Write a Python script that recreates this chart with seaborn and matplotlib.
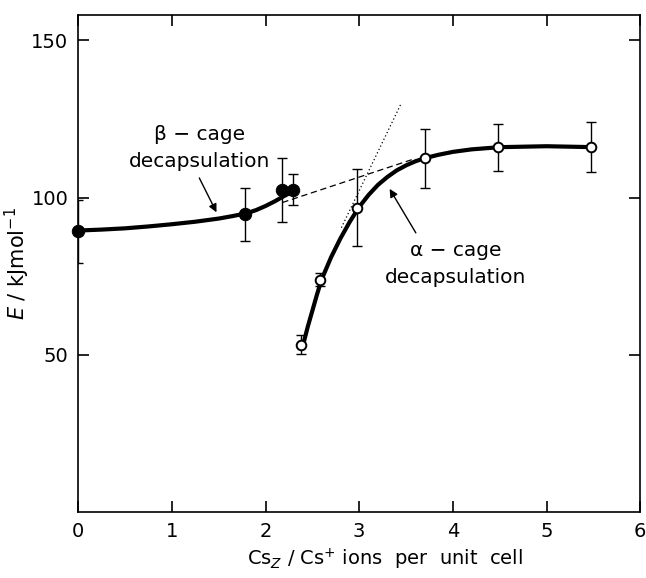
import numpy as np
import pandas as pd
import matplotlib
matplotlib.use("Agg")
import matplotlib.pyplot as plt
import seaborn as sns

# === Data ===
# beta-cage points (filled)
beta_x = [0.0, 1.78, 2.18, 2.29]
beta_y = [89.2, 94.6, 102.5, 102.5]
beta_err = [10.0, 8.3, 10.2, 5.0]

# alpha-cage points (open)
alpha_x = [2.38, 2.58, 2.98, 3.70, 4.48, 5.48]
alpha_y = [53.2, 73.9, 96.8, 112.4, 116.0, 116.0]
alpha_err = [3.0, 2.0, 12.3, 9.3, 7.5, 8.0]

# hand-drawn guide curves
beta_curve_x = [0.0, 0.25, 0.5, 0.75, 1.0, 1.25, 1.5, 1.65, 1.8, 1.9, 2.0, 2.1, 2.2, 2.3]
beta_curve_y = [89.5, 89.8, 90.2, 90.8, 91.5, 92.3, 93.3, 94.1, 95.0, 96.0, 97.3, 98.8, 100.5, 102.0]
alpha_curve_x = [2.40, 2.45, 2.50, 2.55, 2.60, 2.70, 2.80, 2.90, 3.00, 3.10, 3.20, 3.30,
                 3.40, 3.50, 3.60, 3.70, 3.85, 4.00, 4.20, 4.50, 5.00, 5.50]
alpha_curve_y = [53.0, 58.8, 64.0, 69.2, 74.0, 81.0, 87.0, 92.3, 97.0, 100.8, 104.0, 106.5,
                 108.6, 110.2, 111.5, 112.5, 113.6, 114.5, 115.3, 116.0, 116.3, 116.0]

# construction lines
dash_x = [2.18, 3.60]
dash_y = [98.4, 112.4]
dot_x = [2.81, 3.45]
dot_y = [90.4, 130.0]

# === Plot ===
sns.set_style("ticks")
plt.rcParams["font.family"] = ["DejaVu Sans"]
plt.rcParams["mathtext.fontset"] = "dejavusans"
plt.rcParams["text.color"] = "black"
plt.rcParams["axes.labelcolor"] = "black"
plt.rcParams["xtick.color"] = "black"
plt.rcParams["ytick.color"] = "black"

fig = plt.figure(figsize=(6.46, 5.78), dpi=100)
ax = fig.add_axes([0.121, 0.114, 0.870, 0.860])

sns.lineplot(x=beta_curve_x, y=beta_curve_y, ax=ax, color="black", lw=3.0, sort=False)
sns.lineplot(x=alpha_curve_x, y=alpha_curve_y, ax=ax, color="black", lw=3.0, sort=False)
sns.lineplot(x=dash_x, y=dash_y, ax=ax, color="black", lw=0.9, linestyle=(0, (5, 3)))
sns.lineplot(x=dot_x, y=dot_y, ax=ax, color="black", lw=0.9, linestyle=(0, (1, 2)))

ax.errorbar(beta_x, beta_y, yerr=beta_err, fmt="none", ecolor="black",
            elinewidth=1.0, capsize=3.5, capthick=1.0, zorder=3)
ax.errorbar(alpha_x, alpha_y, yerr=alpha_err, fmt="none", ecolor="black",
            elinewidth=1.0, capsize=3.5, capthick=1.0, zorder=3)

sns.scatterplot(x=beta_x, y=beta_y, ax=ax, s=80, color="black",
                edgecolor="black", zorder=5, clip_on=False)
sns.scatterplot(x=alpha_x, y=alpha_y, ax=ax, s=48, facecolor="white",
                edgecolor="black", linewidth=1.4, zorder=5)

ax.set_xlim(0, 6)
ax.set_ylim(0, 158)
ax.set_xticks([0, 1, 2, 3, 4, 5, 6])
ax.set_yticks([50, 100, 150])
ax.tick_params(direction="in", length=8, width=1.2, labelsize=14,
               top=True, right=True, pad=7)
for s in ax.spines.values():
    s.set_linewidth(1.2)
    s.set_color("black")

ax.set_xlabel("Cs$_Z$ / Cs$^{+}$ ions  per  unit  cell", fontsize=14)
ax.xaxis.set_label_coords(0.546, -0.07)
ax.set_ylabel("$E$ / kJmol$^{-1}$", fontsize=15)
ax.yaxis.set_label_coords(-0.082, 0.50)

ax.text(1.3, 120, "β − cage", fontsize=14.5, ha="center", va="center")
ax.text(1.3, 111.5, "decapsulation", fontsize=14.5, ha="center", va="center")
ax.annotate("", xy=(1.49, 94.5), xytext=(1.28, 107),
            arrowprops=dict(arrowstyle="-|>", color="black", lw=1.0,
                            mutation_scale=12))

ax.text(4.03, 83, "α − cage", fontsize=14.5, ha="center", va="center")
ax.text(4.03, 74.5, "decapsulation", fontsize=14.5, ha="center", va="center")
ax.annotate("", xy=(3.31, 103.5), xytext=(3.62, 88),
            arrowprops=dict(arrowstyle="-|>", color="black", lw=1.0,
                            mutation_scale=12))

fig.savefig("out.png", dpi=100)
